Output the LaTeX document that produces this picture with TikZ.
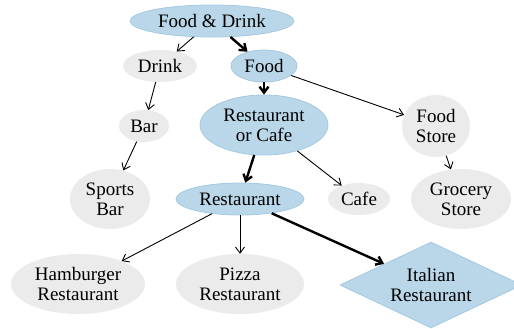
\documentclass[tikz,border=0pt]{standalone}
\usepackage{fontspec}
\setmainfont{Liberation Serif}
\usetikzlibrary{shapes}
\usetikzlibrary{arrows.meta}
\definecolor{catblue}{HTML}{BAD7E9}
\definecolor{catedge}{HTML}{A3C9E2}
\definecolor{catgray}{HTML}{EBEBEB}
\tikzset{
	catnode/.style = {align=center, inner sep=0pt, text centered,
		font=\fontsize{19}{20}\selectfont},
	cat_b/.style = {catnode, ellipse, fill=catblue, draw=catedge,
		line width=0.8pt},% category on the path, blue
	cat_g/.style = {catnode, ellipse, fill=catgray},% other category, grey
	cat_d/.style = {catnode, diamond, fill=catblue, draw=catedge,
		line width=0.8pt, aspect=2.12, minimum width=182pt,
		minimum height=86pt},% the leaf
	thin_e/.style = {->, line width=0.9pt},
	thick_e/.style = {->, line width=2.4pt}
}

\begin{document}
\begin{tikzpicture}[x=1pt,y=-1pt,
		>={Straight Barb[length=6pt,width=9pt]}]
	\useasboundingbox (0,0) rectangle (514,329);
	% top levels
	\node [cat_b, minimum width=164pt, minimum height=32pt] (fd) at (212,21) {Food \& Drink};
	\node [cat_g, minimum width=74pt, minimum height=32pt] (drink) at (160,66) {Drink};
	\node [cat_b, minimum width=66pt, minimum height=32pt] (food) at (264,66) {Food};
	\node [cat_g, minimum width=50pt, minimum height=32pt] (bar) at (144,126) {Bar};
	\node [cat_b, minimum width=128pt, minimum height=60pt] (roc) at (264,125) {Restaurant\\or Cafe};
	\node [cat_g, minimum width=68pt, minimum height=62pt] (store) at (436,126) {Food\\Store};
	% middle
	\node [cat_g, minimum width=80pt, minimum height=60pt] (sports) at (110,199) {Sports\\Bar};
	\node [cat_b, minimum width=128pt, minimum height=32pt] (rest) at (240,199) {Restaurant};
	\node [cat_g, minimum width=62pt, minimum height=32pt] (cafe) at (359,199) {Cafe};
	\node [cat_g, minimum width=100pt, minimum height=60pt] (grocery) at (461,199) {Grocery\\Store};
	% leaves
	\node [cat_g, minimum width=134pt, minimum height=60pt] (burger) at (78,284) {Hamburger\\Restaurant};
	\node [cat_g, minimum width=128pt, minimum height=60pt] (pizza) at (240,284) {Pizza\\Restaurant};
	\node [cat_d] (italian) at (431,285) {Italian\\Restaurant};

	\draw [thin_e] (fd) -- (drink);
	\draw [thick_e] (fd) -- (food);
	\draw [thin_e] (drink) -- (bar);
	\draw [thick_e] (food) -- (roc);
	\draw [thin_e] (food) -- (store);
	\draw [thin_e] (bar) -- (sports);
	\draw [thick_e] (roc) -- (rest);
	\draw [thin_e] (roc) -- (cafe);
	\draw [thin_e] (store) -- (grocery);
	\draw [thin_e] (rest) -- (burger);
	\draw [thin_e] (rest) -- (pizza);
	\draw [thick_e] (rest) -- (italian);
\end{tikzpicture}
\end{document}
